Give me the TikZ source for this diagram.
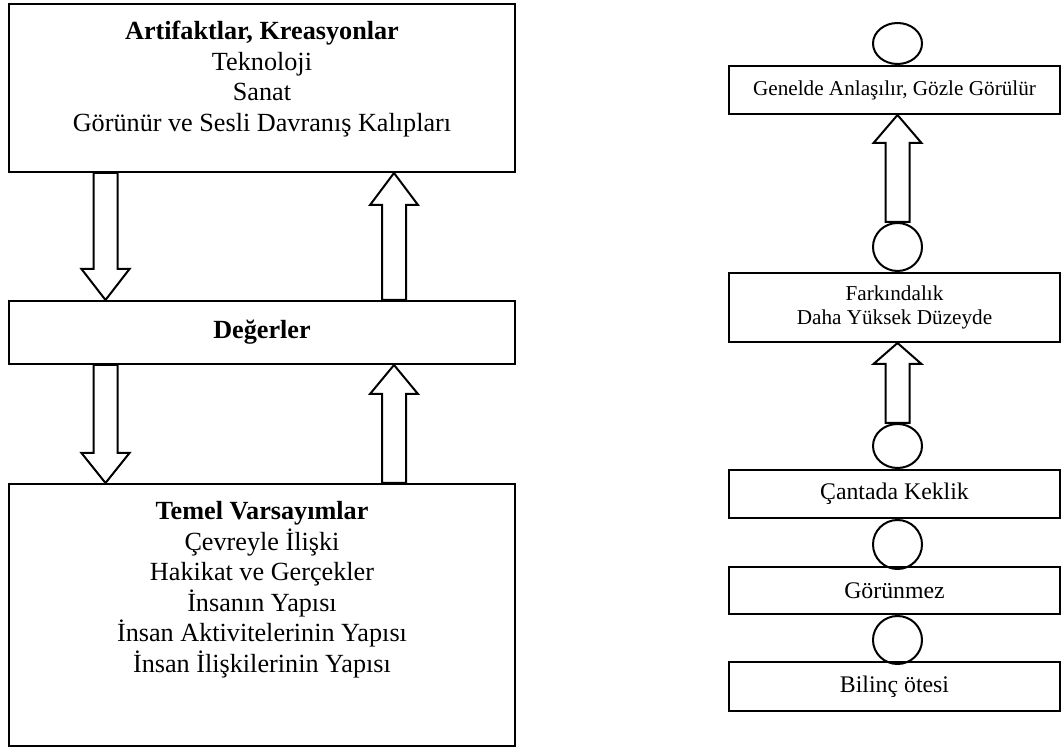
\documentclass[tikz,border=0pt]{standalone}
\usepackage{fontspec}
\setmainfont{Liberation Serif}
\usetikzlibrary{positioning,calc,shapes.geometric}

% hollow block arrow: [head length]{from}{tip}
\newcommand{\blockarrow}[3][15pt]{%
  \coordinate (ba-s) at (#2);
  \coordinate (ba-t) at (#3);
  \coordinate (ba-h) at ($(ba-t)!#1!(ba-s)$);
  \draw[hollow] ($(ba-s)!6pt!90:(ba-t)$) -- ($(ba-h)!6pt!90:(ba-t)$)
    -- ($(ba-h)!12pt!90:(ba-t)$) -- (ba-t)
    -- ($(ba-h)!12pt!-90:(ba-t)$) -- ($(ba-h)!6pt!-90:(ba-t)$)
    -- ($(ba-s)!6pt!-90:(ba-t)$) -- cycle;
}

\begin{document}
\begin{tikzpicture}[
  x=0.5pt, y=-0.5pt,
  panel/.style={draw,line width=1pt,minimum width=253pt,inner sep=0pt},
  bigtext/.style={align=center,inner sep=0pt,font=\fontsize{13.1}{15.25}\selectfont},
  layer/.style={draw,line width=1pt,minimum width=165.5pt,inner sep=0pt,
                align=center,font=\fontsize{11.9}{13}\selectfont},
  gate/.style={draw,ellipse,line width=1pt,minimum width=24.5pt,
               minimum height=24pt,inner sep=0pt},
  hollow/.style={draw,line width=1pt,fill=white,line join=miter}
]
\useasboundingbox (0,0) rectangle (1061,748);

% left column
\node[panel,minimum height=84pt] (art) at (262,88) {};
\node[bigtext,below=9pt of art.north] (arttxt) {\textbf{Artifaktlar, Kreasyonlar}\\Teknoloji\\Sanat\\Görünür ve Sesli Davranış Kalıpları};
\node[panel,bigtext,minimum height=31.5pt,below=63.5pt of art] (val) {\textbf{Değerler}};
\node[panel,minimum height=131pt,below=59pt of val] (base) {};
\node[bigtext,below=9pt of base.north] (basetxt) {\textbf{Temel Varsayımlar}\\Çevreyle İlişki\\Hakikat ve Gerçekler\\İnsanın Yapısı\\İnsan Aktivitelerinin Yapısı\\İnsan İlişkilerinin Yapısı};

\coordinate (downx) at (105.5,0);
\coordinate (upx) at (394,0);

\blockarrow[15.5pt]{art.south -| downx}{val.north -| downx}
\blockarrow[16pt]{val.north -| upx}{art.south -| upx}
\blockarrow[15pt]{val.south -| downx}{base.north -| downx}
\blockarrow[14.5pt]{base.north -| upx}{val.south -| upx}

% right column
\node[layer,minimum height=24pt,font=\fontsize{10.6}{10.5}\selectfont] (seen) at (894.5,90) {Genelde Anlaşılır, Gözle Görülür};
\node[layer,minimum height=34.5pt,font=\fontsize{10.6}{12}\selectfont,below=78.5pt of seen] (aware) {Farkındalık\\Daha Yüksek Düzeyde};
\node[layer,minimum height=24pt,below=63pt of aware] (taken) {Çantada Keklik};
\node[layer,minimum height=23.5pt,below=23.5pt of taken] (hidden) {Görünmez};
\node[layer,minimum height=24.5pt,below=23pt of hidden] (deep) {Bilinç ötesi};

\node[gate,minimum height=20.5pt,above=0pt of seen,xshift=1.5pt] (g1) {};
\node[gate,above=0pt of aware,xshift=1.5pt] (g2) {};
\node[gate,minimum height=22pt,above=0pt of taken,xshift=1.5pt] (g3) {};
\node[gate,minimum height=24.5pt,below=0pt of taken,xshift=1.5pt] (g4) {};
\node[gate,below=0pt of hidden,xshift=1.5pt] (g5) {};

\blockarrow[14pt]{g2.north}{seen.south -| g2}
\blockarrow[10.5pt]{g3.north}{aware.south -| g3}
\end{tikzpicture}
\end{document}
